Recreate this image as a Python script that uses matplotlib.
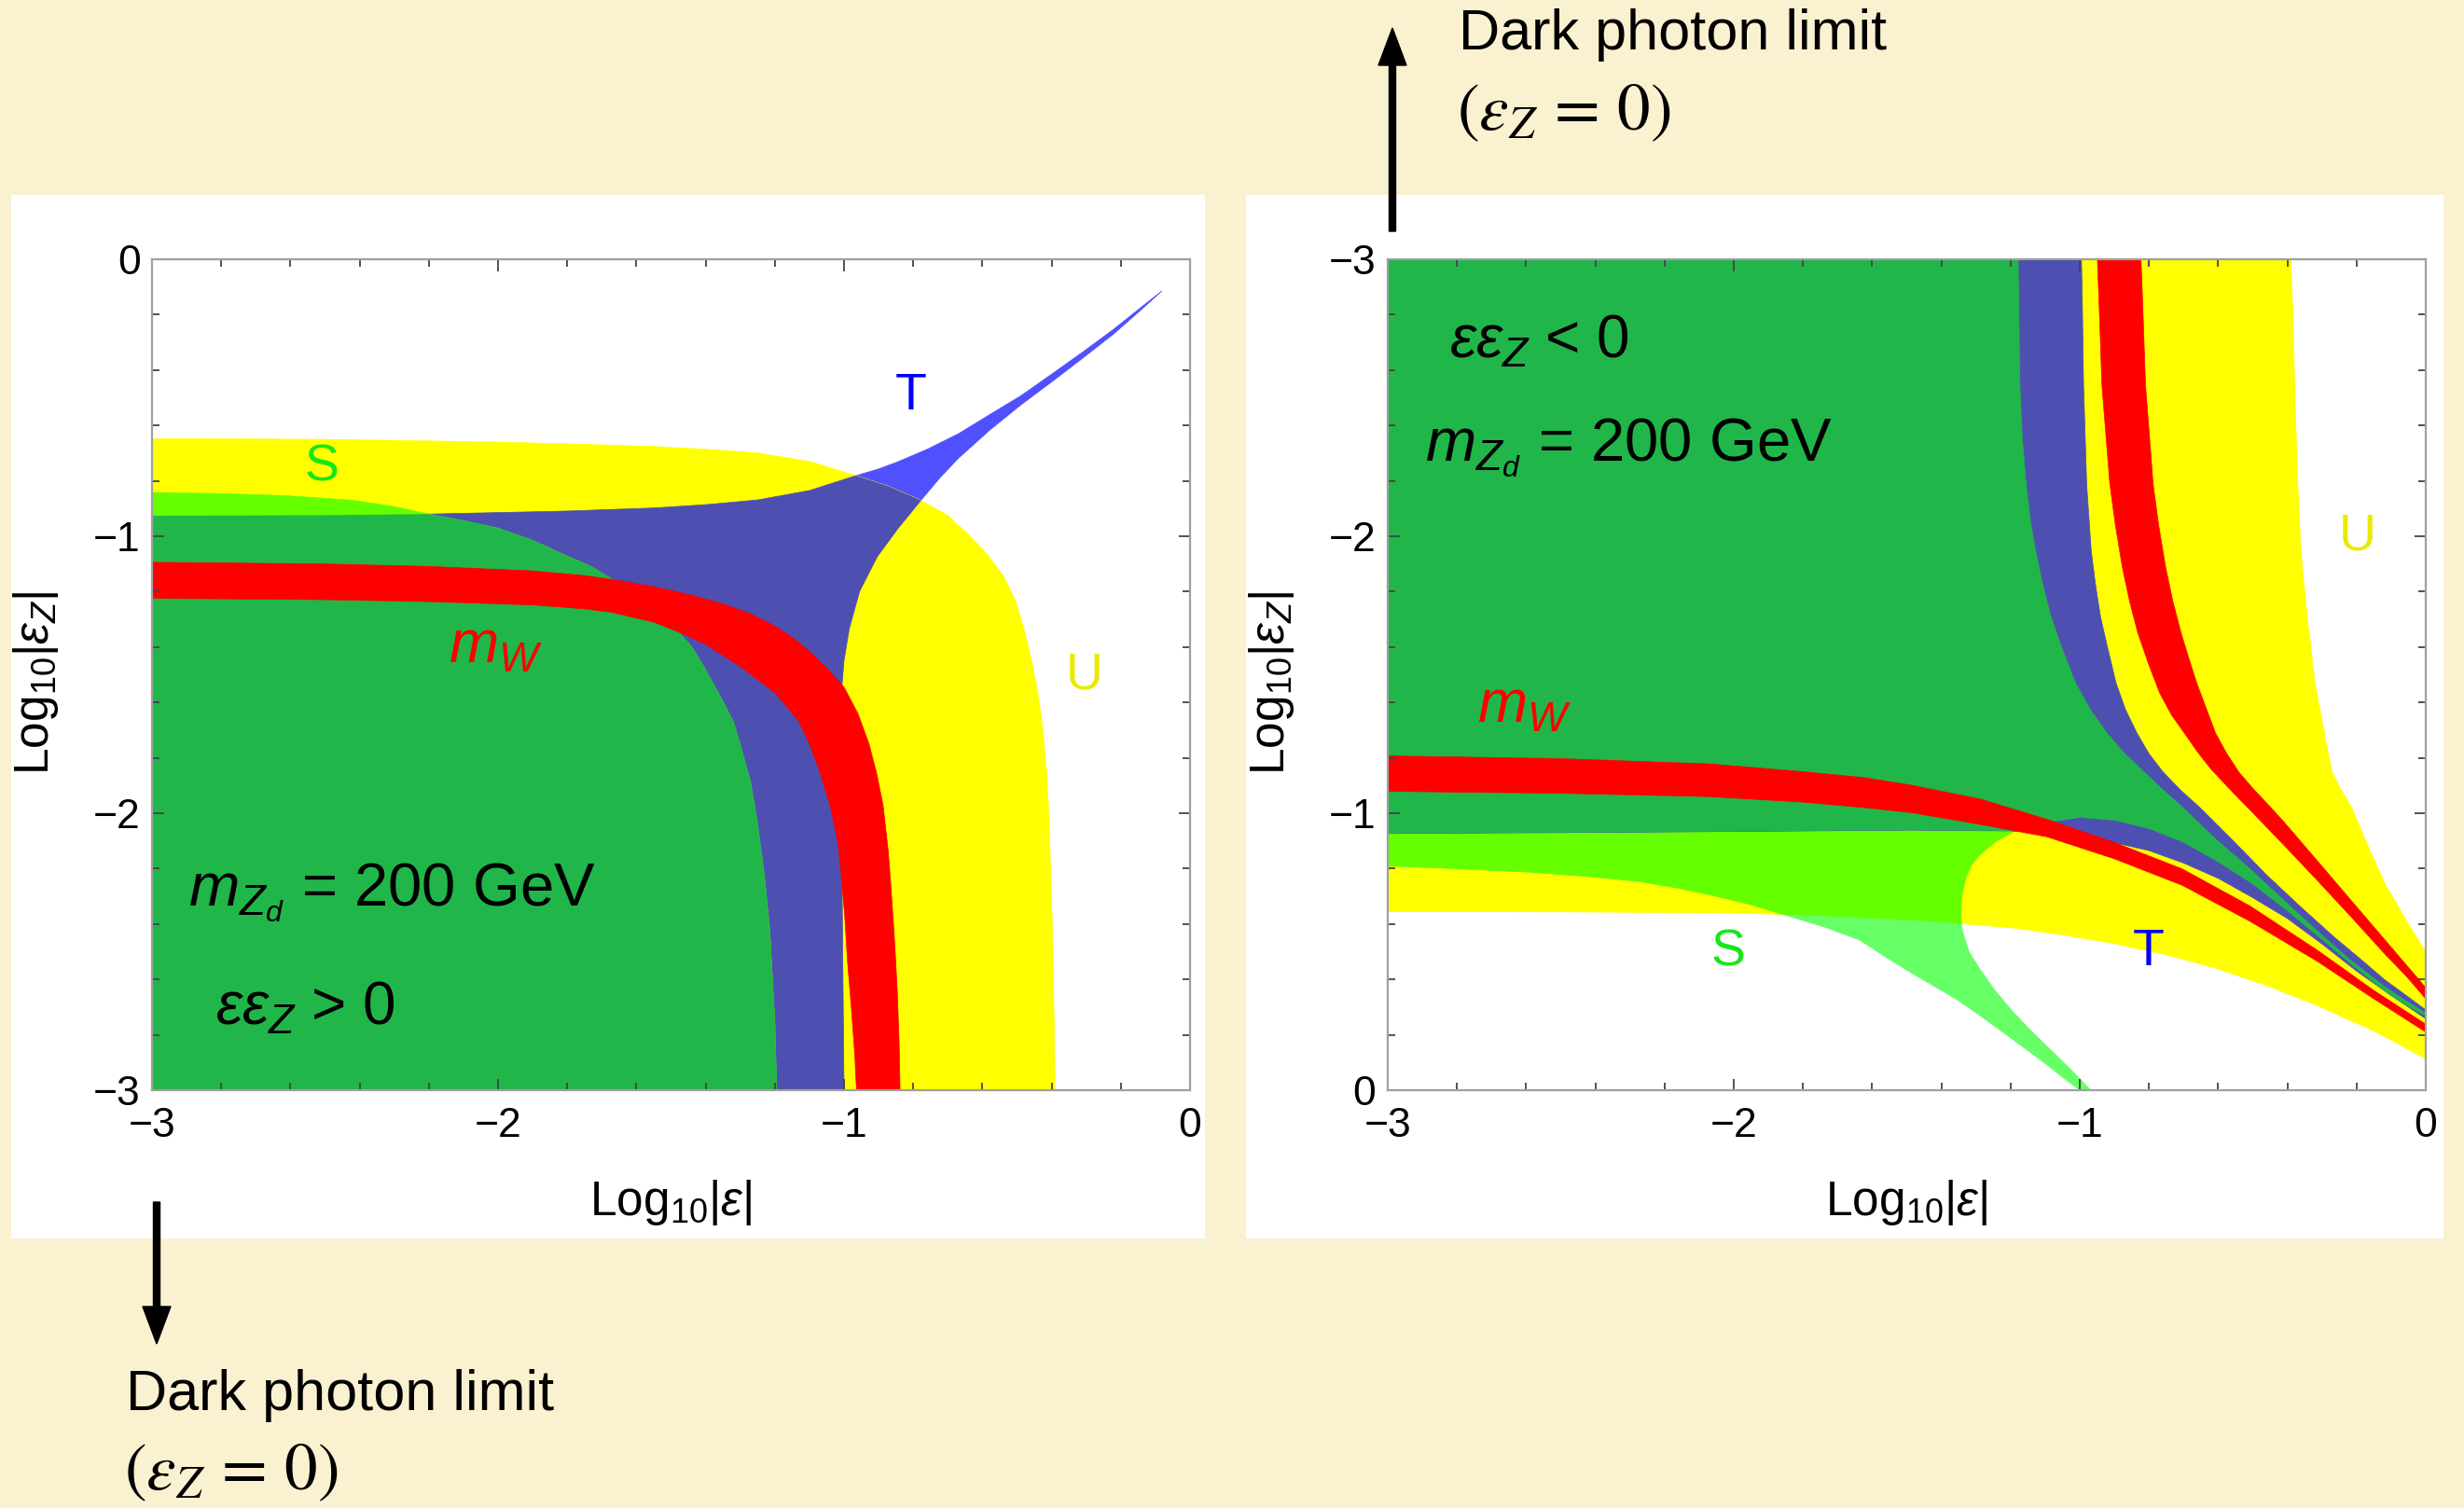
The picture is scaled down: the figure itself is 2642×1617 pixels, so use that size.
import numpy as np
import matplotlib
matplotlib.use("Agg")
import matplotlib.pyplot as plt
from matplotlib.patches import Polygon, Rectangle, FancyArrow
from matplotlib.ticker import MultipleLocator
from matplotlib.transforms import IdentityTransform

W, H = 2642, 1617

plt.rcParams["font.family"] = ["Liberation Sans", "DejaVu Sans"]
plt.rcParams["mathtext.fontset"] = "custom"
plt.rcParams["mathtext.rm"] = "Liberation Sans"
plt.rcParams["mathtext.it"] = "Liberation Sans:italic"
plt.rcParams["mathtext.bf"] = "Liberation Sans:bold"

BG = "#FAF1D0"
YELLOW = "#FFFF00"
DKGREEN = "#21B64A"
LTGREEN = "#66FF00"
PALEGREEN = "#66FF66"
SLATE = "#4D50B0"
BLUE = "#5050FF"
RED = "#FF0000"

TICKS = [-3, -2, -1, 0]
TICK_LABELS = ["\u22123", "\u22122", "\u22121", "0"]

# ---- left panel: eps*eps_Z > 0 (region boundaries, log10 values) ----
L_U_X = [-3.0, -2.5, -2.0, -1.75, -1.55, -1.4, -1.25, -1.1, -0.965, -0.87, -0.78, -0.70, -0.64, -0.587,
         -0.54, -0.505, -0.48, -0.458, -0.44, -0.425, -0.415, -0.408, -0.403, -0.398, -0.395, -0.392, -0.39]
L_U_Y = [-0.648, -0.650, -0.660, -0.668, -0.676, -0.686, -0.699, -0.730, -0.781, -0.820, -0.869, -0.925, -0.994, -1.064,
         -1.142, -1.23, -1.335, -1.45, -1.563, -1.7, -1.85, -2.0, -2.2, -2.4, -2.6, -2.8, -3.0]

L_T_TOP_X = [-3.0, -2.5, -2.2, -1.8, -1.55, -1.4, -1.25, -1.1, -0.965, -0.90, -0.848, -0.758, -0.668,
             -0.578, -0.489, -0.399, -0.309, -0.220, -0.130, -0.081]
L_T_TOP_Y = [-0.926, -0.924, -0.920, -0.909, -0.898, -0.886, -0.869, -0.835, -0.781, -0.757, -0.733, -0.685, -0.629,
             -0.560, -0.493, -0.414, -0.334, -0.252, -0.162, -0.114]
L_T_SIDE_X = [-0.081, -0.130, -0.220, -0.309, -0.399, -0.489, -0.578, -0.668, -0.72, -0.776, -0.844, -0.904,
              -0.955, -0.985, -1.0, -1.007, -1.008, -1.006, -1.003, -1.0]
L_T_SIDE_Y = [-0.114, -0.170, -0.269, -0.356, -0.442, -0.526, -0.616, -0.717, -0.785, -0.868, -0.972, -1.074,
              -1.199, -1.335, -1.449, -1.557, -1.8, -2.2, -2.6, -3.0]

L_S_X = [-3.0, -2.8, -2.62, -2.42, -2.3, -2.2, -2.1, -2.0, -1.9, -1.8, -1.73, -1.67, -1.58, -1.49, -1.44,
         -1.40, -1.35, -1.32, -1.30, -1.27, -1.25, -1.23, -1.215, -1.20, -1.195]
L_S_Y = [-0.842, -0.846, -0.853, -0.870, -0.893, -0.920, -0.944, -0.971, -1.015, -1.072, -1.11, -1.156, -1.235, -1.330, -1.40,
         -1.483, -1.597, -1.67, -1.753, -1.89, -2.040, -2.23, -2.42, -2.76, -3.0]

L_MW_OUT_X = [-3.0, -2.5, -2.2, -1.9, -1.75, -1.67, -1.55, -1.45, -1.35, -1.27, -1.20, -1.15, -1.10, -1.05,
              -1.0, -0.96, -0.928, -0.905, -0.887, -0.872, -0.862, -0.853, -0.846, -0.841, -0.838]
L_MW_OUT_Y = [-1.094, -1.100, -1.109, -1.125, -1.142, -1.156, -1.182, -1.210, -1.244, -1.28, -1.324, -1.365, -1.415, -1.475,
              -1.545, -1.64, -1.749, -1.86, -1.973, -2.14, -2.31, -2.48, -2.646, -2.82, -3.0]
L_MW_IN_X = [-3.0, -2.5, -2.2, -1.9, -1.75, -1.67, -1.55, -1.47, -1.40, -1.35, -1.30, -1.25, -1.20, -1.17,
             -1.13, -1.10, -1.07, -1.04, -1.02, -1.01, -0.998, -0.99, -0.979, -0.969, -0.964]
L_MW_IN_Y = [-1.224, -1.229, -1.236, -1.248, -1.262, -1.275, -1.31, -1.35, -1.39, -1.43, -1.47, -1.517, -1.565, -1.608,
             -1.67, -1.749, -1.85, -1.973, -2.09, -2.198, -2.37, -2.534, -2.70, -2.871, -3.0]

# ---- right panel: eps*eps_Z < 0 ----
R_U_TOP_X = [-0.39, -0.384, -0.379, -0.370, -0.361, -0.343, -0.320, -0.305, -0.290, -0.271, -0.245, -0.215,
             -0.17, -0.117, -0.08, -0.049, 0.0]
R_U_TOP_Y = [-3.0, -2.8, -2.547, -2.188, -1.949, -1.709, -1.470, -1.37, -1.270, -1.149, -1.085, -1.023,
             -0.89, -0.743, -0.665, -0.597, -0.501]
R_U_BOT_X = [-3.0, -2.5, -2.0, -1.85, -1.7, -1.486, -1.35, -1.193, -1.05, -0.899, -0.75, -0.606, -0.46, -0.313, -0.15, 0.0]
R_U_BOT_Y = [-0.645, -0.644, -0.640, -0.634, -0.626, -0.614, -0.602, -0.586, -0.561, -0.529, -0.489, -0.440, -0.378,
             -0.305, -0.214, -0.114]

R_S_UP_X = [-1.178, -1.176, -1.173, -1.166, -1.155, -1.143, -1.128, -1.108, -1.083, -1.05, -1.012, -0.97, -0.922,
            -0.87, -0.814, -0.76, -0.704, -0.61, -0.508, -0.41, -0.313, -0.22, -0.12, -0.06, 0.0]
R_S_UP_Y = [-3.0, -2.8, -2.547, -2.35, -2.188, -2.06, -1.949, -1.83, -1.709, -1.59, -1.470, -1.375, -1.290,
            -1.215, -1.149, -1.085, -1.023, -0.91, -0.799, -0.685, -0.574, -0.472, -0.375, -0.325, -0.278]
R_S_LENS_X = [-1.193, -1.10, -1.0, -0.9, -0.8, -0.7, -0.6, -0.5, -0.4, -0.3, -0.21, -0.12, -0.06, 0.0]
R_S_LENS_Y = [-0.933, -0.965, -0.985, -0.975, -0.945, -0.895, -0.825, -0.745, -0.648, -0.545, -0.45, -0.36, -0.31, -0.268]
R_S_HYP_X = [-1.241, -1.29, -1.315, -1.330, -1.340, -1.344, -1.343, -1.339, -1.32, -1.29, -1.245, -1.193,
             -1.145, -1.095, -1.03, -0.968]
R_S_HYP_Y = [-0.900, -0.849, -0.81, -0.765, -0.71, -0.652, -0.61, -0.574, -0.50, -0.44, -0.36, -0.283,
             -0.22, -0.159, -0.08, 0.0]
R_S_LOW_X = [-1.0, -1.05, -1.095, -1.19, -1.29, -1.351, -1.42, -1.486, -1.56, -1.636, -1.74, -1.849, -1.95,
             -2.062, -2.17, -2.274, -2.43, -2.594, -2.8, -3.0]
R_S_LOW_Y = [0.0, -0.047, -0.092, -0.18, -0.271, -0.324, -0.375, -0.423, -0.48, -0.542, -0.59, -0.631, -0.67,
             -0.704, -0.732, -0.754, -0.773, -0.788, -0.80, -0.810]

R_T_EDGE_X = [-0.995, -0.992, -0.989, -0.980, -0.967, -0.955, -0.940, -0.92, -0.895, -0.868, -0.835, -0.80,
              -0.76, -0.71, -0.655, -0.56, -0.459, -0.36, -0.264, -0.19, -0.12, -0.06, 0.0]
R_T_EDGE_Y = [-3.0, -2.8, -2.547, -2.188, -1.949, -1.83, -1.709, -1.60, -1.470, -1.375, -1.29, -1.215,
              -1.15, -1.085, -1.023, -0.905, -0.776, -0.66, -0.552, -0.475, -0.40, -0.345, -0.29]
R_T_LOW_X = [-3.0, -2.5, -2.0, -1.49, -1.2, -1.05, -0.94, -0.8, -0.7, -0.6, -0.5, -0.4, -0.3, -0.2, -0.1, 0.0]
R_T_LOW_Y = [-0.927, -0.930, -0.934, -0.939, -0.936, -0.925, -0.905, -0.865, -0.82, -0.765, -0.695, -0.62,
             -0.528, -0.43, -0.342, -0.258]

R_MW1_X = [-3.0, -2.5, -2.07, -1.8, -1.62, -1.486, -1.29, -1.095, -0.899, -0.704, -0.508, -0.313, -0.15, 0.0]
R_MW1_A_Y = [-1.207, -1.197, -1.178, -1.150, -1.128, -1.101, -1.052, -0.978, -0.894, -0.799, -0.665, -0.505, -0.36, -0.238]
R_MW1_B_Y = [-1.079, -1.072, -1.060, -1.040, -1.020, -1.002, -0.960, -0.915, -0.835, -0.740, -0.610, -0.465, -0.33, -0.21]

R_MW2_A_X = [-0.949, -0.943, -0.936, -0.913, -0.897, -0.877, -0.856, -0.832, -0.80, -0.769, -0.735, -0.698,
             -0.66, -0.621, -0.565, -0.508, -0.41, -0.313, -0.215, -0.117, -0.055, 0.0]
R_MW2_A_Y = [-3.0, -2.8, -2.547, -2.188, -2.04, -1.889, -1.765, -1.650, -1.535, -1.434, -1.355, -1.290,
             -1.222, -1.160, -1.085, -1.012, -0.885, -0.757, -0.625, -0.49, -0.41, -0.33]
R_MW2_B_X = [-0.823, -0.817, -0.810, -0.788, -0.772, -0.752, -0.731, -0.707, -0.685, -0.662, -0.635, -0.608,
             -0.575, -0.54, -0.50, -0.455, -0.411, -0.31, -0.215, -0.15, -0.10, -0.05, 0.0]
R_MW2_B_Y = [-3.0, -2.8, -2.547, -2.188, -2.04, -1.889, -1.765, -1.650, -1.56, -1.470, -1.38, -1.290,
             -1.215, -1.148, -1.09, -1.03, -0.97, -0.823, -0.684, -0.589, -0.516, -0.443, -0.37]


def shape(ax, xs, ys):
    return Polygon(np.column_stack([xs, ys]), closed=True, transform=ax.transData)


def fill(ax, xs, ys, color, clip=None):
    p = Polygon(np.column_stack([xs, ys]), closed=True, facecolor=color,
                edgecolor=color, linewidth=0.5, zorder=1)
    ax.add_patch(p)
    if clip is not None:
        p.set_clip_path(clip)
    return p


def style(ax, inverted):
    ax.set_xlim(-3, 0)
    ax.set_ylim((0, -3) if inverted else (-3, 0))
    ax.set_xticks(TICKS)
    ax.set_xticklabels(TICK_LABELS)
    ax.set_yticks(TICKS)
    ax.set_yticklabels(TICK_LABELS)
    ax.xaxis.set_minor_locator(MultipleLocator(0.2))
    ax.yaxis.set_minor_locator(MultipleLocator(0.2))
    ax.tick_params(which="both", direction="in", top=True, right=True,
                   color="#444444", width=1.3)
    ax.tick_params(which="major", length=9, labelsize=32)
    ax.tick_params(which="minor", length=6)
    ax.tick_params(axis="x", which="major", pad=13)
    ax.tick_params(axis="y", which="major", pad=9)
    for s in ax.spines.values():
        s.set_color("#A0A0A0")
        s.set_linewidth(1.6)
    ax.set_xlabel(r"Log$_{10}|\varepsilon|$", fontsize=37, va="center")
    ax.set_ylabel(r"Log$_{10}|\varepsilon_Z|$", fontsize=37, va="center")
    ax.xaxis.set_label_coords(0.5, -0.135)
    ax.yaxis.set_label_coords(-0.112, 0.49)


fig = plt.figure(figsize=(W / 100, H / 100), dpi=100, facecolor=BG)

# white panels behind the two plots
for x0, w in [(12, 1280), (1336, 1284)]:
    fig.add_artist(Rectangle((x0 / W, 1 - 1328 / H), w / W, 1119 / H,
                             transform=fig.transFigure, facecolor="white",
                             edgecolor="none", zorder=-5))

axL = fig.add_axes([163 / W, 1 - 1169 / H, 1113 / W, 891 / H])
axR = fig.add_axes([1488 / W, 1 - 1169 / H, 1113 / W, 891 / H])

# ---------------- left panel ----------------
t_x = L_T_TOP_X + L_T_SIDE_X[1:] + [-3.0]
t_y = L_T_TOP_Y + L_T_SIDE_Y[1:] + [-3.0]
u_x = L_U_X + [-3.0]
u_y = L_U_Y + [-3.0]
s_x = L_S_X + [-3.0]
s_y = L_S_Y + [-3.0]

fill(axL, t_x, t_y, BLUE)
fill(axL, u_x, u_y, YELLOW)
fill(axL, t_x, t_y, SLATE, clip=shape(axL, u_x, u_y))
fill(axL, s_x, s_y, LTGREEN)
fill(axL, s_x, s_y, DKGREEN, clip=shape(axL, t_x, t_y))
fill(axL, L_MW_OUT_X + L_MW_IN_X[::-1], L_MW_OUT_Y + L_MW_IN_Y[::-1], RED)

style(axL, inverted=False)

axL.text(-0.806, -0.495, "T", color="#0000F5", fontsize=40, ha="center", va="center")
axL.text(-2.509, -0.754, "S", color="#19E619", fontsize=40, ha="center", va="center")
axL.text(-0.305, -1.505, "U", color="#EAEA00", fontsize=40, ha="center", va="center")
axL.text(-2.008, -1.40, r"$m_W$", color=RED, fontsize=46, ha="center", va="center")
axL.text(-2.895, -2.286, r"$m_{Z_d}$ = 200 GeV", fontsize=47, ha="left", va="center")
axL.text(-2.817, -2.707, r"$\varepsilon\varepsilon_Z$ > 0", fontsize=46, ha="left", va="center")

# ---------------- right panel ----------------
u_x = [-3.0] + R_U_TOP_X + R_U_BOT_X[::-1]
u_y = [-3.0] + R_U_TOP_Y + R_U_BOT_Y[::-1]
s_x = [-3.0] + R_S_UP_X + R_S_LENS_X[::-1] + R_S_HYP_X + R_S_LOW_X
s_y = [-3.0] + R_S_UP_Y + R_S_LENS_Y[::-1] + R_S_HYP_Y + R_S_LOW_Y
t_x = [-3.0] + R_T_EDGE_X + R_T_LOW_X[::-1]
t_y = [-3.0] + R_T_EDGE_Y + R_T_LOW_Y[::-1]

fill(axR, u_x, u_y, YELLOW)
fill(axR, s_x, s_y, PALEGREEN)
fill(axR, s_x, s_y, LTGREEN, clip=shape(axR, u_x, u_y))
fill(axR, t_x, t_y, SLATE)
fill(axR, s_x, s_y, DKGREEN, clip=shape(axR, t_x, t_y))
fill(axR, R_MW1_X + R_MW1_X[::-1], R_MW1_A_Y + R_MW1_B_Y[::-1], RED)
fill(axR, R_MW2_B_X + R_MW2_A_X[::-1], R_MW2_B_Y + R_MW2_A_Y[::-1], RED)

style(axR, inverted=True)

axR.text(-2.822, -2.70, r"$\varepsilon\varepsilon_Z$ < 0", fontsize=46, ha="left", va="center")
axR.text(-2.892, -2.32, r"$m_{Z_d}$ = 200 GeV", fontsize=47, ha="left", va="center")
axR.text(-2.606, -1.384, r"$m_W$", color=RED, fontsize=46, ha="center", va="center")
axR.text(-0.197, -1.997, "U", color="#EAEA00", fontsize=40, ha="center", va="center")
axR.text(-2.015, -0.498, "S", color="#19E619", fontsize=40, ha="center", va="center")
axR.text(-0.801, -0.498, "T", color="#0000F5", fontsize=40, ha="center", va="center")

# ---------------- dark photon limit arrows ----------------
fig.add_artist(FancyArrow(168, H - 1289, 0, -152, width=7, head_width=30, head_length=40,
                          length_includes_head=True, color="black",
                          transform=IdentityTransform()))
fig.add_artist(FancyArrow(1493, H - 248, 0, 218, width=7, head_width=30, head_length=40,
                          length_includes_head=True, color="black",
                          transform=IdentityTransform()))

fig.text(135 / W, 1 - 1496 / H, "Dark photon limit", fontsize=44, ha="left", va="center")
fig.text(133 / W, 1 - 1579 / H, r"$(\varepsilon_Z\,=\,0)$", fontsize=51,
         math_fontfamily="stix", ha="left", va="center")
fig.text(1564 / W, 1 - 37 / H, "Dark photon limit", fontsize=44, ha="left", va="center")
fig.text(1562 / W, 1 - 121 / H, r"$(\varepsilon_Z\,=\,0)$", fontsize=51,
         math_fontfamily="stix", ha="left", va="center")

fig.savefig("out.png", dpi=100, facecolor=BG)
